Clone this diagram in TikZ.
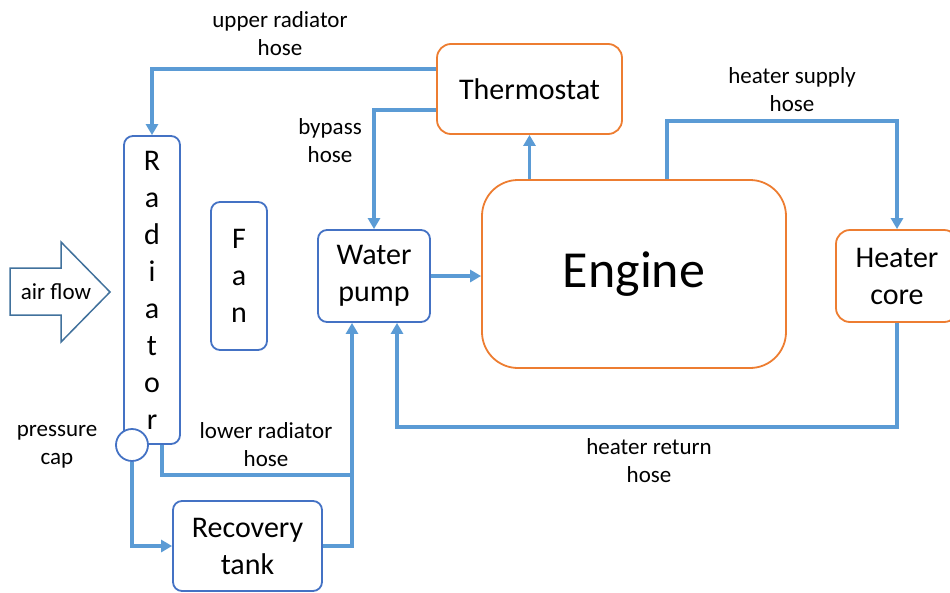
\documentclass[tikz,border=0pt]{standalone}
\usepackage{fontspec}
\setmainfont{Carlito}
\usetikzlibrary{arrows.meta,calc}
\definecolor{boxblue}{HTML}{4472C4}
\definecolor{boxorange}{HTML}{ED7D31}
\definecolor{hoseblue}{HTML}{5B9BD5}
\definecolor{airblue}{HTML}{41719C}
\begin{document}
\begin{tikzpicture}[x=1pt,y=-1pt,
  bluebox/.style={draw=boxblue,line width=1.8pt,rounded corners=9pt,inner sep=0pt,align=center,font=\fontsize{30}{37}\selectfont},
  orangebox/.style={draw=boxorange,line width=1.8pt,rounded corners=14pt,inner sep=0pt,align=center,font=\fontsize{30}{37}\selectfont},
  hose/.style={draw=hoseblue,line width=3.4pt},
  hosearrow/.style={hose,-{Triangle[length=11pt,width=12pt]}},
  lbl/.style={align=center,inner sep=0pt,font=\fontsize{23}{28}\selectfont}]
\useasboundingbox (0,0) rectangle (950,592);
% boxes
\node[bluebox,minimum width=56pt,minimum height=308pt] (rad) at (152,290) {R\\a\\d\\i\\a\\t\\o\\r};
\node[bluebox,minimum width=56pt,minimum height=148pt] (fan) at (239,276) {F\\a\\n};
\node[bluebox,minimum width=112pt,minimum height=92pt] (wp) at (374,276) {Water\\pump};
\node[bluebox,minimum width=149pt,minimum height=90pt] (rec) at (247.5,546) {Recovery\\tank};
\node[orangebox,rounded corners=36pt,minimum width=304pt,minimum height=188pt,font=\fontsize{52}{60}\selectfont] (eng) at (634,274) {Engine};
\node[orangebox,minimum width=185pt,minimum height=90pt] (therm) at (529.5,89) {Thermostat};
\node[orangebox,minimum width=122pt,minimum height=92pt] (heat) at (897,276) {Heater\\core};
\node[draw=boxblue,fill=white,line width=1.8pt,circle,minimum size=32pt,inner sep=0pt] (cap) at (132,445) {};
% air flow arrow
\draw[draw=airblue,line width=1.5pt,line join=miter] (10,268) -- (61,268) -- (61,242) -- (110,292) -- (61,342) -- (61,315) -- (10,315) -- cycle;
\node[lbl] (air) at (56,292) {air flow};
% hoses
\draw[hosearrow] ([yshift=20pt]therm.west) -| (rad.north);
\draw[hosearrow] ([yshift=-21pt]therm.west) -| (wp.north);
\draw[hosearrow] (wp.east) -- (wp.east -| eng.west);
\draw[hosearrow] (eng.north -| therm.south) -- (therm.south);
\draw[hosearrow] ([xshift=33pt]eng.north) -- ++(0,-58) -| (heat.north);
\draw[hosearrow] (heat.south) -- ++(0,104) -| ([xshift=23pt]wp.south);
\coordinate (j) at (352,475);
\draw[hosearrow] ([xshift=10pt]rad.south) |- (j) -- ([xshift=-22pt]wp.south);
\draw[hose] (rec.east) -| (j);
\draw[hosearrow] (cap.south) |- (rec.west);
% labels
\node[lbl] (l1) at (280,34) {upper radiator\\hose};
\node[lbl] (l2) at (330,141) {bypass\\hose};
\node[lbl] (l3) at (792,89.5) {heater supply\\hose};
\node[lbl] (l4) at (649,461) {heater return\\hose};
\node[lbl] (l5) at (266,444.5) {lower radiator\\hose};
\node[lbl] (l6) at (57,447) {pressure\\cap};
\end{tikzpicture}
\end{document}
